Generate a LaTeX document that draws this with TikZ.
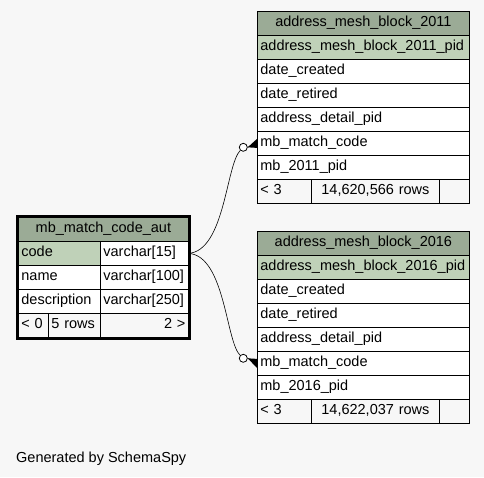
\documentclass[tikz,border=0pt]{standalone}
\usepackage{fontspec}
\setmainfont{Liberation Sans}
\usepackage{tikz}
\usetikzlibrary{positioning}
\usetikzlibrary{fit}
\definecolor{bggray}{HTML}{F7F7F7}
\definecolor{hdrgreen}{HTML}{9BAB96}
\definecolor{pkgreen}{HTML}{BFD1B8}
\tikzset{
    cell/.style={draw=black, line width=0.8pt, anchor=north west, minimum height=24pt,
        inner xsep=3pt, inner ysep=0pt, text height=10pt, text depth=3.5pt,
        align=left, fill=white, font=\fontsize{14.5}{16}\selectfont},
    hdr/.style={cell, fill=hdrgreen, align=center},
    pk/.style={cell, fill=pkgreen},
    foot/.style={cell, fill=bggray},
    optcircle/.style={circle, draw=black, fill=white, line width=0.8pt, minimum size=8pt, inner sep=0pt},
    rel/.style={draw=black, line width=0.6pt},
}
\begin{document}
\begin{tikzpicture}[x=1pt, y=-1pt]
	\fill[bggray] (0,0) rectangle (484,477);
	% address_mesh_block_2011
	\node[hdr, text width=206pt] (t11-title) at (257,11) {address\_mesh\_block\_2011};
	\node[pk, text width=206pt] (t11-pid) at (257,35) {address\_mesh\_block\_2011\_pid};
	\node[cell, text width=206pt] (t11-created) at (257,59) {date\_created};
	\node[cell, text width=206pt] (t11-retired) at (257,83) {date\_retired};
	\node[cell, text width=206pt] (t11-detail) at (257,107) {address\_detail\_pid};
	\node[cell, text width=206pt] (t11-code) at (257,131) {mb\_match\_code};
	\node[cell, text width=206pt] (t11-mb) at (257,155) {mb\_2011\_pid};
	\node[foot, text width=48pt] (t11-foot-prev) at (257,179) {< 3};
	\node[foot, text width=122pt, align=center] (t11-foot-rows) at (311,179) {14,620,566 rows};
	\node[foot, text width=24pt] (t11-foot-next) at (439,179) {};
	% address_mesh_block_2016
	\node[hdr, text width=206pt] (t16-title) at (257,231) {address\_mesh\_block\_2016};
	\node[pk, text width=206pt] (t16-pid) at (257,255) {address\_mesh\_block\_2016\_pid};
	\node[cell, text width=206pt] (t16-created) at (257,279) {date\_created};
	\node[cell, text width=206pt] (t16-retired) at (257,303) {date\_retired};
	\node[cell, text width=206pt] (t16-detail) at (257,327) {address\_detail\_pid};
	\node[cell, text width=206pt] (t16-code) at (257,351) {mb\_match\_code};
	\node[cell, text width=206pt] (t16-mb) at (257,375) {mb\_2016\_pid};
	\node[foot, text width=48pt] (t16-foot-prev) at (257,399) {< 3};
	\node[foot, text width=122pt, align=center] (t16-foot-rows) at (311,399) {14,622,037 rows};
	\node[foot, text width=24pt] (t16-foot-next) at (439,399) {};
	% mb_match_code_aut
	\node[hdr, text width=164pt] (aut-title) at (18,217) {mb\_match\_code\_aut};
	\node[pk, text width=76pt] (aut-code) at (18,241) {code};
	\node[cell, text width=82pt] (aut-code-type) at (100,241) {varchar[15]};
	\node[cell, text width=76pt] (aut-name) at (18,265) {name};
	\node[cell, text width=82pt] (aut-name-type) at (100,265) {varchar[100]};
	\node[cell, text width=76pt] (aut-desc) at (18,289) {description};
	\node[cell, text width=82pt] (aut-desc-type) at (100,289) {varchar[250]};
	\node[foot, text width=24pt] (aut-foot-prev) at (18,313) {< 0};
	\node[foot, text width=46pt] (aut-foot-rows) at (48,313) {5 rows};
	\node[foot, text width=82pt, align=right] (aut-foot-next) at (100,313) {2 >};
	\node[fit=(aut-title)(aut-foot-next), draw=black, line width=3.5pt, inner sep=0.75pt] (aut-box) {};
	% relationships
	\node[optcircle] (c11) at (243.3,147.3) {};
	\node[optcircle] (c16) at (243.3,358.3) {};
	\draw[rel] (aut-code-type.east) .. controls (225,250) and (226,165) .. (c11);
	\draw[rel] (aut-code-type.east) .. controls (225,256) and (226,342) .. (c16);
	\fill (c11.east) -- ([yshift=4.5pt]t11-code.west) -- ([yshift=-4.5pt]t11-code.west) -- cycle;
	\draw[rel] (c11.east) -- (t11-code.west);
	\fill (c16.east) -- ([yshift=4.5pt]t16-code.west) -- ([yshift=-4.5pt]t16-code.west) -- cycle;
	\draw[rel] (c16.east) -- (t16-code.west);
	\node[anchor=base west, inner sep=0pt, font=\fontsize{14.5}{16}\selectfont] (credit) at (16,462) {Generated by SchemaSpy};
\end{tikzpicture}
\end{document}
